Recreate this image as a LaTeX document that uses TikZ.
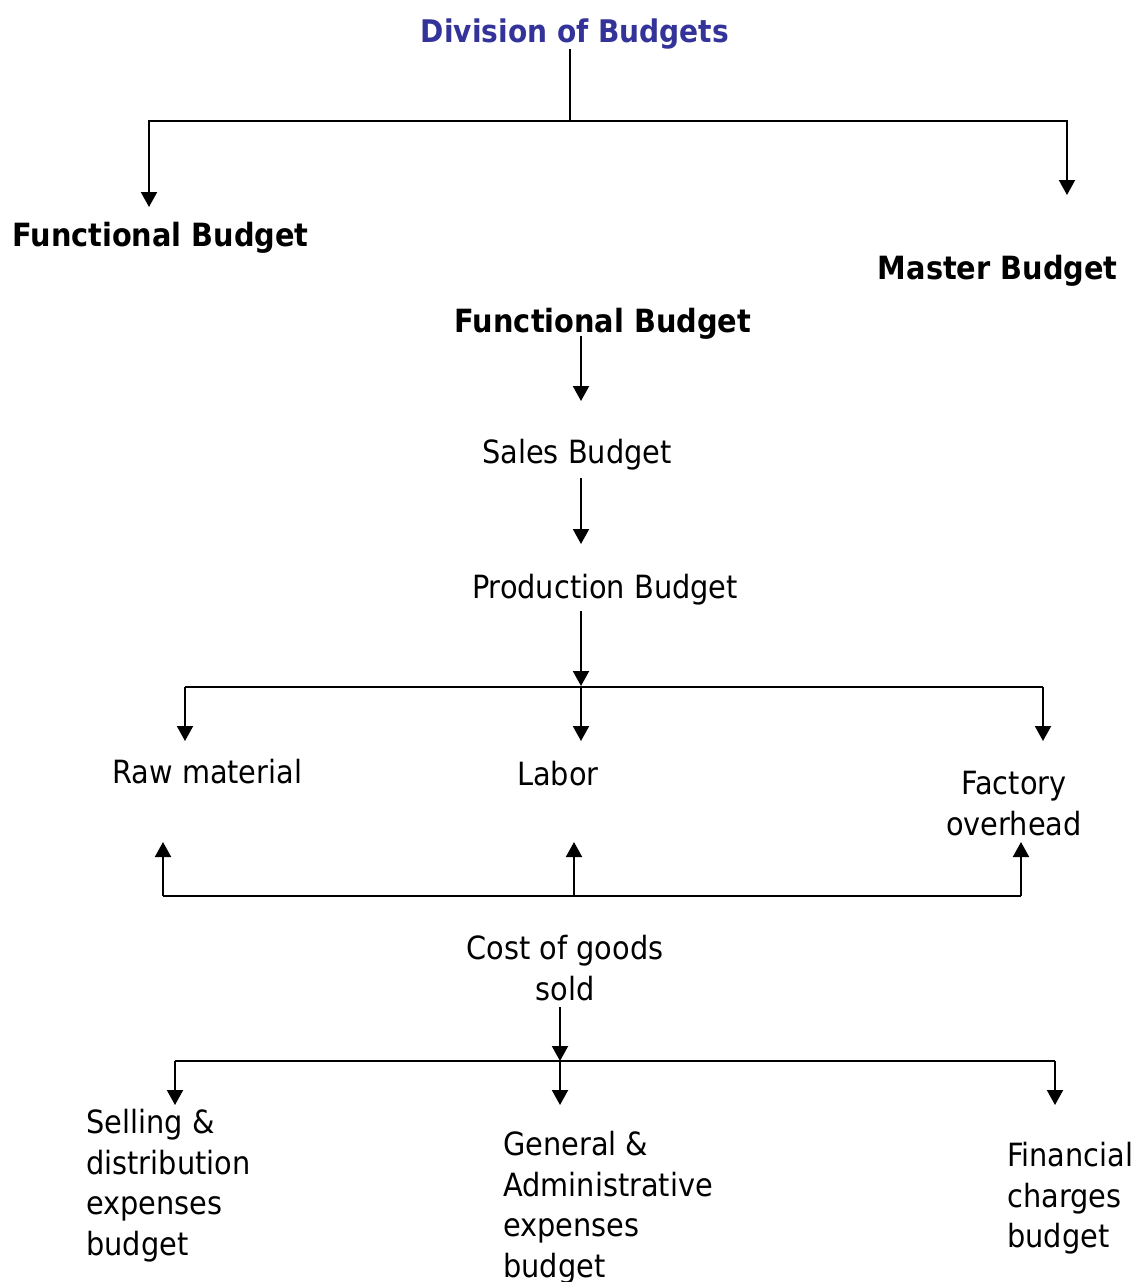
\documentclass[tikz,border=0pt]{standalone}
\usepackage{fontspec}
\setmainfont{DejaVu Sans Condensed}
\usetikzlibrary{arrows.meta}
\definecolor{titleblue}{HTML}{333399}
\tikzset{
  lbl/.style={inner sep=0pt, font=\fontsize{16}{20.25}\selectfont},
  hdr/.style={inner sep=0pt, font=\fontsize{16}{20.25}\selectfont\bfseries},
  ln/.style={line width=1pt},
  arr/.style={line width=1pt, -{Triangle[length=7.5pt,width=8pt]}},
}
\begin{document}
\begin{tikzpicture}[x=0.5pt,y=-0.5pt]
      \useasboundingbox (0,0) rectangle (1138,1282);
      % headings
      \node[inner sep=0pt, font=\fontsize{15.6}{18}\selectfont\bfseries, text=titleblue, anchor=base]
        (title) at (575,42) {Division of Budgets};
      \node[hdr, anchor=base west] (funcl) at (12,246) {Functional Budget};
      \node[hdr, anchor=base east] (master) at (1118,279) {Master Budget};
      \node[hdr, anchor=base] (func) at (603,332) {Functional Budget};
      % chain
      \node[lbl, anchor=base] (sales) at (577,463) {Sales Budget};
      \node[lbl, anchor=base] (prod) at (605,598) {Production Budget};
      \node[lbl, anchor=base west] (raw) at (112,783) {Raw material};
      \node[lbl, anchor=base] (labor) at (558,785) {Labor};
      \node[lbl, align=center, anchor=north] (fact) at (1014,771) {Factory\\overhead};
      \node[lbl, align=center, anchor=north] (cogs) at (565,935) {Cost of goods\\sold};
      \node[lbl, align=left, anchor=north west] (sell) at (86,1109)
        {Selling \&\\distribution\\expenses\\budget};
      \node[lbl, align=left, anchor=north west] (gen) at (503,1131)
        {General \&\\Administrative\\expenses\\budget};
      \node[lbl, align=left, anchor=north west] (fin) at (1007,1142)
        {Financial\\charges\\budget};

      % end points of the connectors
      \coordinate (top) at (570,121);
      \coordinate (funcl-in) at (149,207);
      \coordinate (master-in) at (1067,195);
      \coordinate (func-out) at (581,336);
      \coordinate (sales-in) at (581,401);
      \coordinate (sales-out) at (581,478);
      \coordinate (prod-in) at (581,544);
      \coordinate (prod-out) at (581,611);
      \coordinate (bar1) at (581,687);
      \coordinate (bar1l) at (185,687);
      \coordinate (bar1r) at (1043,687);
      \coordinate (raw-in) at (185,741);
      \coordinate (labor-in) at (581,741);
      \coordinate (fact-in) at (1043,741);
      \coordinate (bar2l) at (163,896);
      \coordinate (bar2m) at (574,896);
      \coordinate (bar2r) at (1021,896);
      \coordinate (raw-up) at (163,842);
      \coordinate (labor-up) at (574,842);
      \coordinate (fact-up) at (1021,842);
      \coordinate (cogs-out) at (560,1007);
      \coordinate (bar3) at (560,1061);
      \coordinate (bar3l) at (175,1061);
      \coordinate (bar3r) at (1055,1061);
      \coordinate (sell-in) at (175,1105);
      \coordinate (gen-in) at (560,1105);
      \coordinate (fin-in) at (1055,1105);

      \begin{scope}[ln]
        \draw (title.south -| top) -- (top);
        \draw (bar1l) -- (bar1r);
        \draw (bar2l) -- (bar2r);
        \draw (bar3l) -- (bar3r);
      \end{scope}
      \begin{scope}[arr]
        \draw (top) -| (funcl-in);
        \draw (top) -| (master-in);
        \draw (func-out) -- (sales-in);
        \draw (sales-out) -- (prod-in);
        \draw (prod-out) -- ([yshift=0.5pt]bar1);
        \draw (bar1l) -- (raw-in);
        \draw (bar1) -- (labor-in);
        \draw (bar1r) -- (fact-in);
        \draw (bar2l) -- (raw-up);
        \draw (bar2m) -- (labor-up);
        \draw (bar2r) -- (fact-up);
        \draw (cogs-out) -- (bar3);
        \draw (bar3l) -- (sell-in);
        \draw (bar3) -- (gen-in);
        \draw (bar3r) -- (fin-in);
      \end{scope}
    \end{tikzpicture}
\end{document}
